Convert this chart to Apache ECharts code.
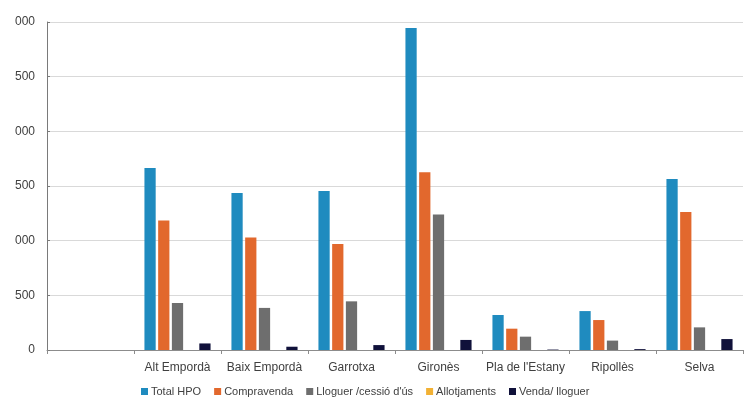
<!DOCTYPE html>
<html><head><meta charset="utf-8">
<script src="https://cdn.jsdelivr.net/npm/echarts@6/dist/echarts.min.js"></script>
<style>html,body{margin:0;padding:0;background:#fff;overflow:hidden}#c{width:744px;height:404px}</style>
</head><body><div id="c"></div>
<script>
const categories = ["", "Alt Empordà", "Baix Empordà", "Garrotxa", "Gironès", "Pla de l'Estany", "Ripollès", "Selva"];
const seriesNames = ["Total HPO", "Compravenda", "Lloguer /cessió d'ús", "Allotjaments", "Venda/ lloguer"];
const totalHPO     = [null, 1665, 1435, 1455, 2945, 320, 356, 1565];
const compravenda  = [null, 1185, 1030, 970, 1625, 195, 274, 1262];
const lloguer      = [null, 430, 385, 445, 1240, 122, 86, 207];
const allotjaments = [null, 0, 0, 0, 0, 0, 0, 0];
const vendaLloguer = [null, 60, 30, 45, 92, 4, 8, 100];
const yTickValues = [0, 500, 1000, 1500, 2000, 2500, 3000];
const yTickLabels = ["0", "500", "000", "500", "000", "500", "000"];
const colors = ["#1f8bbf", "#e2682d", "#6e6e6e", "#f2b134", "#10113a"];
const values = [totalHPO, compravenda, lloguer, allotjaments, vendaLloguer];

const chart = echarts.init(document.getElementById('c'));
chart.setOption({
  animation: false,
  grid: {left: 47, right: 1, top: 22, bottom: 54},
  legend: {
    bottom: 2, left: 136, itemWidth: 7, itemHeight: 7, itemGap: 13, icon: 'rect',
    textStyle: {fontSize: 11, color: '#404040', fontFamily: 'Liberation Sans, Arial', padding: [0, 0, 0, -2]},
    data: seriesNames
  },
  xAxis: {
    type: 'category', data: categories,
    axisLine: {lineStyle: {color: '#8c8c8c'}},
    axisTick: {show: true, length: 4, lineStyle: {color: '#8c8c8c'}},
    axisLabel: {color: '#404040', fontSize: 12, margin: 12, fontFamily: 'Liberation Sans, Arial', interval: 0}
  },
  yAxis: {
    type: 'value', min: 0, max: 3000, interval: 500,
    axisLine: {show: true, lineStyle: {color: '#7a7a7a'}},
    axisTick: {show: true, length: 3, inside: true, lineStyle: {color: '#7a7a7a'}},
    splitLine: {lineStyle: {color: '#d9d9d9'}},
    axisLabel: {color: '#404040', fontSize: 12, margin: 12, fontFamily: 'Liberation Sans, Arial',
      formatter: v => yTickLabels[yTickValues.indexOf(v)]}
  },
  series: seriesNames.map((n, i) => ({
    name: n, type: 'bar', data: values[i], barGap: '22%', barCategoryGap: '24%',
    itemStyle: {color: colors[i]}
  }))
});
</script></body></html>
